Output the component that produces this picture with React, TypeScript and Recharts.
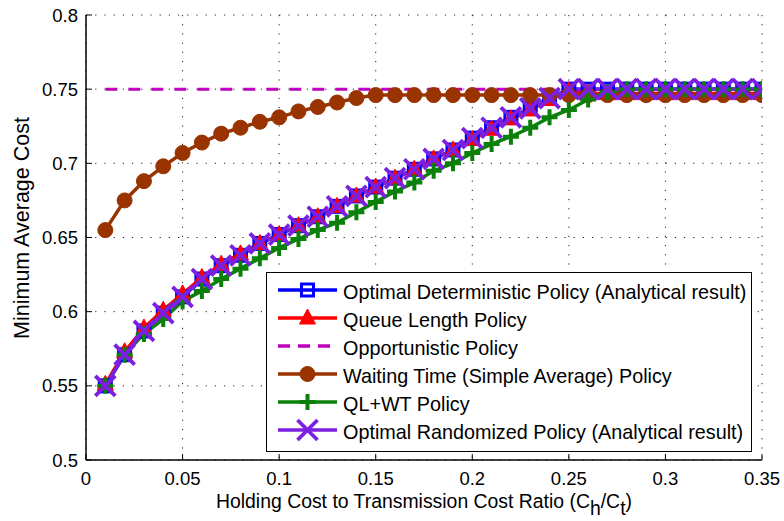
import React from 'react';
import {
  LineChart,
  Line,
  XAxis,
  YAxis,
  CartesianGrid,
  Legend,
} from 'recharts';

// holding cost / transmission cost ratio
const ratios = [
  0.01, 0.02, 0.03, 0.04, 0.05, 0.06, 0.07, 0.08, 0.09, 0.1,
  0.11, 0.12, 0.13, 0.14, 0.15, 0.16, 0.17, 0.18, 0.19, 0.2,
  0.21, 0.22, 0.23, 0.24, 0.25, 0.26, 0.27, 0.28, 0.29, 0.3,
  0.31, 0.32, 0.33, 0.34, 0.35,
];

const optimalDet = [
  0.55, 0.571, 0.587, 0.599, 0.61, 0.622, 0.631, 0.638, 0.646, 0.652,
  0.658, 0.664, 0.671, 0.678, 0.684, 0.69, 0.696, 0.703, 0.709, 0.717,
  0.724, 0.731, 0.737, 0.744, 0.75, 0.75, 0.75, 0.75, 0.75, 0.75,
  0.75, 0.75, 0.75, 0.75, 0.75,
];

const queueLength = [
  0.551, 0.573, 0.589, 0.601, 0.612, 0.623, 0.632, 0.639, 0.646, 0.652,
  0.658, 0.664, 0.671, 0.678, 0.684, 0.69, 0.696, 0.703, 0.709, 0.716,
  0.723, 0.73, 0.736, 0.743, 0.749, 0.747, 0.747, 0.747, 0.747, 0.747,
  0.747, 0.747, 0.747, 0.747, 0.747,
];

const opportunistic = [
  0.75, 0.75, 0.75, 0.75, 0.75, 0.75, 0.75, 0.75, 0.75, 0.75,
  0.75, 0.75, 0.75, 0.75, 0.75, 0.75, 0.75, 0.75, 0.75, 0.75,
  0.75, 0.75, 0.75, 0.75, 0.75, 0.75, 0.75, 0.75, 0.75, 0.75,
  0.75, 0.75, 0.75, 0.75, 0.75,
];

const waitingTime = [
  0.655, 0.675, 0.688, 0.698, 0.707, 0.714, 0.72, 0.724, 0.728, 0.731,
  0.735, 0.738, 0.741, 0.744, 0.746, 0.746, 0.746, 0.746, 0.746, 0.746,
  0.746, 0.746, 0.746, 0.746, 0.746, 0.746, 0.746, 0.746, 0.746, 0.746,
  0.746, 0.746, 0.746, 0.746, 0.746,
];

const qlwt = [
  0.55, 0.571, 0.585, 0.595, 0.607, 0.614, 0.622, 0.629, 0.636, 0.643,
  0.649, 0.655, 0.66, 0.667, 0.674, 0.681, 0.687, 0.695, 0.7, 0.707,
  0.713, 0.718, 0.724, 0.731, 0.736, 0.743, 0.748, 0.75, 0.75, 0.75,
  0.75, 0.75, 0.75, 0.75, 0.75,
];

const optimalRnd = [
  0.55, 0.571, 0.587, 0.599, 0.61, 0.622, 0.631, 0.638, 0.646, 0.652,
  0.658, 0.664, 0.671, 0.678, 0.684, 0.69, 0.696, 0.703, 0.709, 0.717,
  0.724, 0.731, 0.737, 0.744, 0.75, 0.75, 0.75, 0.75, 0.75, 0.75,
  0.75, 0.75, 0.75, 0.75, 0.75,
];

const xTicks = [0, 0.05, 0.1, 0.15, 0.2, 0.25, 0.3, 0.35];
const yTicks = [0.5, 0.55, 0.6, 0.65, 0.7, 0.75, 0.8];

const data = ratios.map((r, i) => ({
  r,
  det: optimalDet[i],
  ql: queueLength[i],
  opp: opportunistic[i],
  wt: waitingTime[i],
  qlwt: qlwt[i],
  rnd: optimalRnd[i],
}));

const FONT = '"Liberation Sans", Arial, Helvetica, sans-serif';

const C = {
  blue: '#0000ff',
  red: '#ff0000',
  magenta: '#bf00bf',
  brown: '#993300',
  green: '#0a800a',
  purple: '#7b1fe0',
};

// marker shapes
const SquareMark = ({ cx, cy }: any) => (
  <rect x={cx - 6} y={cy - 6} width={12} height={12} fill="none" stroke={C.blue} strokeWidth={3} />
);
const TriMark = ({ cx, cy }: any) => (
  <polygon points={`${cx},${cy - 9} ${cx - 8},${cy + 6} ${cx + 8},${cy + 6}`} fill={C.red} stroke={C.red} strokeWidth={1} />
);
const CircleMark = ({ cx, cy }: any) => (
  <circle cx={cx} cy={cy} r={7.5} fill={C.brown} stroke={C.brown} strokeWidth={1} />
);
const PlusMark = ({ cx, cy }: any) => (
  <path d={`M${cx - 8},${cy}H${cx + 8}M${cx},${cy - 8}V${cy + 8}`} stroke={C.green} strokeWidth={4} fill="none" />
);
const CrossMark = ({ cx, cy }: any) => (
  <path d={`M${cx - 10},${cy - 10}L${cx + 10},${cy + 10}M${cx - 10},${cy + 10}L${cx + 10},${cy - 10}`} stroke={C.purple} strokeWidth={3.8} fill="none" />
);

const NoTick = () => <g />;

const legendRows = [
  { name: 'Optimal Deterministic Policy (Analytical result)', color: C.blue, Mark: SquareMark, dash: undefined },
  { name: 'Queue Length Policy', color: C.red, Mark: TriMark, dash: undefined },
  { name: 'Opportunistic Policy', color: C.magenta, Mark: null, dash: '12 8' },
  { name: 'Waiting Time (Simple Average) Policy', color: C.brown, Mark: CircleMark, dash: undefined },
  { name: 'QL+WT Policy', color: C.green, Mark: PlusMark, dash: undefined },
  { name: 'Optimal Randomized Policy (Analytical result)', color: C.purple, Mark: CrossMark, dash: undefined },
];

const LegendBox = () => (
  <svg width={486} height={180} style={{ display: 'block' }}>
    <rect x={0.5} y={0.5} width={485} height={179} fill="#fff" stroke="#000" strokeWidth={1} />
    {legendRows.map((row, i) => {
      const base = 27 + i * 28;
      const ly = base - 9;
      const M = row.Mark as any;
      return (
        <g key={row.name}>
          <line x1={12} x2={71} y1={ly} y2={ly} stroke={row.color} strokeWidth={3.5} strokeDasharray={row.dash} />
          {M && <M cx={41.5} cy={ly} />}
          <text x={77} y={base} fontFamily={FONT} fontSize={19.8} fill="#000">
            {row.name}
          </text>
        </g>
      );
    })}
  </svg>
);

const XLabel = ({ viewBox }: any) => {
  const cx = viewBox.x + viewBox.width / 2;
  const by = viewBox.y + 48;
  return (
    <text x={cx} y={by} textAnchor="middle" fontFamily={FONT} fontSize={19.4} fill="#000">
      Holding Cost to Transmission Cost Ratio (C
      <tspan dy={7}>h</tspan>
      <tspan dy={-7}>/C</tspan>
      <tspan dy={7}>t</tspan>
      <tspan dy={-7}>)</tspan>
    </text>
  );
};

const YLabel = () => (
  <text
    x={0}
    y={0}
    transform="translate(29, 228) rotate(-90)"
    textAnchor="middle"
    fontFamily={FONT}
    fontSize={21.5}
    fill="#000"
  >
    Minimum Average Cost
  </text>
);

const tickStyle = { fill: '#000', fontSize: 18.5, fontFamily: FONT };

export default function App() {
  return (
    <div style={{ position: 'absolute', left: 0, top: 0, width: 784, height: 521, background: '#fff' }}>
      <LineChart
        width={784}
        height={521}
        data={data}
        margin={{ top: 15, right: 22, bottom: 0, left: 0 }}
      >
        <CartesianGrid stroke="#222" strokeDasharray="1.2 8" strokeWidth={1} />
        <XAxis
          dataKey="r"
          type="number"
          domain={[0, 0.35]}
          ticks={xTicks}
          height={61}
          tickSize={-6}
          tickMargin={18}
          tick={tickStyle}
          axisLine={{ stroke: '#000', strokeWidth: 1.5 }}
          tickLine={{ stroke: '#000' }}
          label={<XLabel />}
          allowDataOverflow
        />
        <XAxis
          xAxisId="top"
          orientation="top"
          dataKey="r"
          type="number"
          domain={[0, 0.35]}
          ticks={xTicks}
          height={0}
          tickSize={-6}
          tick={NoTick}
          axisLine={{ stroke: '#000', strokeWidth: 1.5 }}
          tickLine={{ stroke: '#000' }}
        />
        <YAxis
          type="number"
          domain={[0.5, 0.8]}
          ticks={yTicks}
          width={86}
          tickSize={-6}
          tickMargin={14}
          tick={tickStyle}
          axisLine={{ stroke: '#000', strokeWidth: 1.5 }}
          tickLine={{ stroke: '#000' }}
          label={<YLabel />}
          allowDataOverflow
        />
        <YAxis
          yAxisId="right"
          orientation="right"
          type="number"
          domain={[0.5, 0.8]}
          ticks={yTicks}
          width={0}
          tickSize={-6}
          tick={NoTick}
          axisLine={{ stroke: '#000', strokeWidth: 1.5 }}
          tickLine={{ stroke: '#000' }}
        />
        <Legend
          layout="vertical"
          align="center"
          verticalAlign="middle"
          content={<LegendBox />}
          wrapperStyle={{ left: 266, top: 272, width: 486, height: 180 }}
        />
        <Line
          dataKey="det"
          name="Optimal Deterministic Policy (Analytical result)"
          stroke={C.blue}
          strokeWidth={3.5}
          dot={<SquareMark />}
          activeDot={false}
          isAnimationActive={false}
        />
        <Line
          dataKey="ql"
          name="Queue Length Policy"
          stroke={C.red}
          strokeWidth={3.5}
          dot={<TriMark />}
          activeDot={false}
          isAnimationActive={false}
        />
        <Line
          dataKey="opp"
          name="Opportunistic Policy"
          stroke={C.magenta}
          strokeWidth={3}
          strokeDasharray="12 11"
          dot={false}
          activeDot={false}
          isAnimationActive={false}
        />
        <Line
          dataKey="wt"
          name="Waiting Time (Simple Average) Policy"
          stroke={C.brown}
          strokeWidth={3.5}
          dot={<CircleMark />}
          activeDot={false}
          isAnimationActive={false}
        />
        <Line
          dataKey="qlwt"
          name="QL+WT Policy"
          stroke={C.green}
          strokeWidth={3.5}
          dot={<PlusMark />}
          activeDot={false}
          isAnimationActive={false}
        />
        <Line
          dataKey="rnd"
          name="Optimal Randomized Policy (Analytical result)"
          stroke={C.purple}
          strokeWidth={3.5}
          dot={<CrossMark />}
          activeDot={false}
          isAnimationActive={false}
        />
      </LineChart>
    </div>
  );
}
